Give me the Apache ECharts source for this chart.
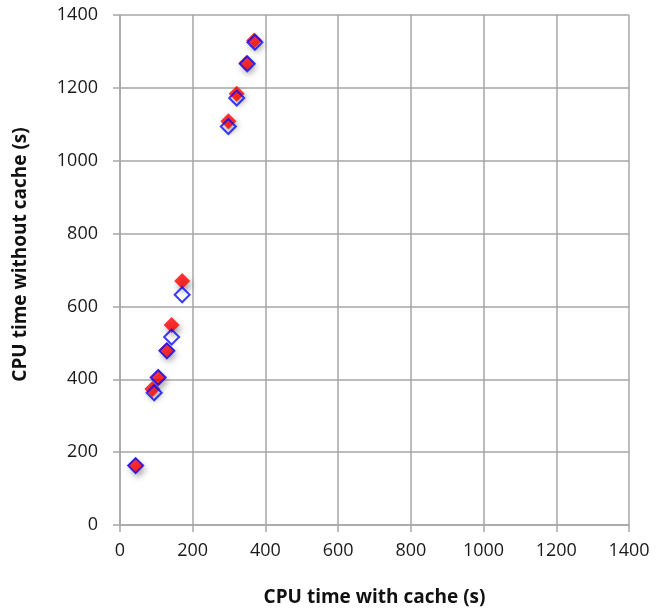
<!DOCTYPE html>
<html>
<head>
<meta charset="utf-8">
<script src="https://cdn.jsdelivr.net/npm/echarts@6/dist/echarts.min.js"></script>
<style>html,body{margin:0;padding:0;background:#fff;}#c{width:657px;height:614px;}</style>
</head>
<body>
<div id="c"></div>
<script>
// CPU time with cache (x) vs without cache (y)
const redPoints = [[43,163],[89,373],[105,405],[128,480],[142,549],[171,670],[298,1108],[321,1184],[348,1268],[369,1330]];
const bluePoints = [[43,163],[94,363],[105,405],[129,478],[142,516],[171,632],[298,1094],[321,1172],[350,1266],[371,1325]];
const xName = 'CPU time with cache (s)';
const yName = 'CPU time without cache (s)';

const chart = echarts.init(document.getElementById('c'));
const font = '"Open Sans", "Liberation Sans", sans-serif';
const gridColor = '#a6a6a6';
const axisCommon = {
  min: 0, max: 1400, interval: 200,
  axisLine: {show: true, lineStyle: {color: gridColor, width: 1.5}},
  axisTick: {show: true, length: 7, lineStyle: {color: gridColor, width: 1.5}},
  splitLine: {show: true, lineStyle: {color: gridColor, width: 1.5}},
  axisLabel: {color: '#1a1a1a', fontSize: 18, fontFamily: font, formatter: v => String(v)},
  nameLocation: 'middle',
  nameTextStyle: {color: '#111', fontSize: 19, fontWeight: 'bold', fontFamily: font}
};
chart.setOption({
  animation: false,
  grid: {left: 120, top: 15, right: 28, bottom: 89, containLabel: false},
  xAxis: Object.assign({}, axisCommon, {
    type: 'value', name: xName, nameGap: 63,
    axisLabel: Object.assign({}, axisCommon.axisLabel, {margin: 17})
  }),
  yAxis: Object.assign({}, axisCommon, {
    type: 'value', name: yName, nameGap: 90,
    nameTextStyle: Object.assign({}, axisCommon.nameTextStyle, {padding: [0, 0, 0, 31]}),
    axisLabel: Object.assign({}, axisCommon.axisLabel, {margin: 22})
  }),
  series: [
    {
      type: 'scatter', data: redPoints, symbol: 'diamond', symbolSize: 16,
      itemStyle: {color: '#ff0000', borderColor: '#ff0000', borderWidth: 0,
        shadowColor: 'rgba(0,0,0,0.45)', shadowBlur: 6, shadowOffsetX: 2, shadowOffsetY: 4},
      z: 2
    },
    {
      type: 'scatter', data: bluePoints, symbol: 'diamond', symbolSize: 15,
      itemStyle: {color: 'rgba(255,255,255,0)', borderColor: '#0a0aff', borderWidth: 2},
      z: 3
    }
  ]
});
</script>
</body>
</html>
